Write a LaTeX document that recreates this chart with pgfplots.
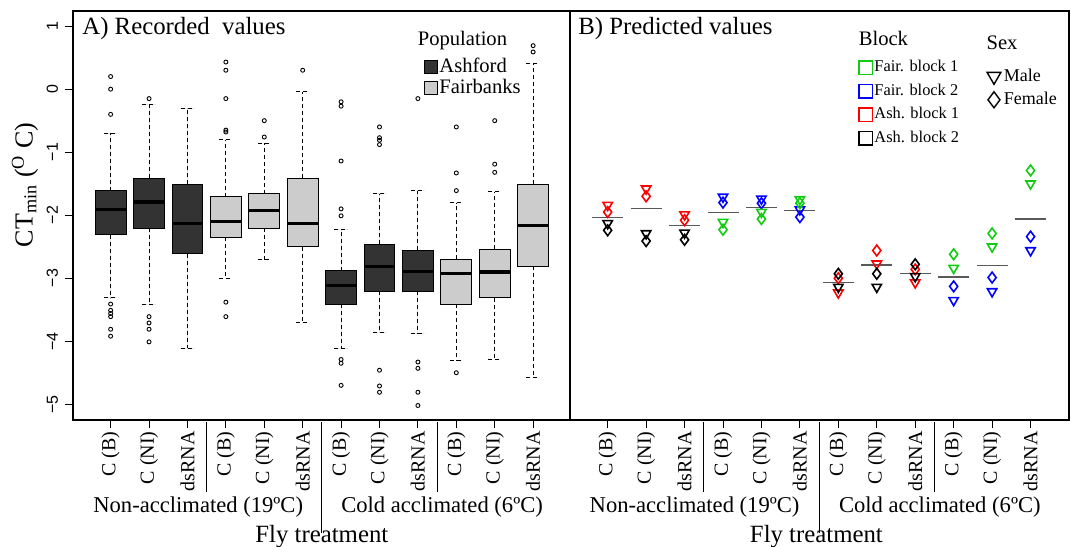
\documentclass[border=0pt]{standalone}
\usepackage{fontspec}
\setmainfont{Liberation Serif}
\setsansfont{Liberation Sans}
\usepackage{pgfplots}
\pgfplotsset{compat=1.18}
\usepgfplotslibrary{statistics}
\definecolor{dk}{HTML}{333333}
\definecolor{lt}{HTML}{CCCCCC}
\definecolor{gr}{HTML}{11CC11}
\definecolor{bl}{HTML}{0000FF}
\definecolor{rd}{HTML}{FF0000}
\newcommand\bp[7]{\addplot[boxplot prepared={draw position=#1, median=#4, upper quartile=#3, lower quartile=#5, upper whisker=#2, lower whisker=#6, box extend=0.8, whisker extend=0.35}, fill=#7, draw=black, mark=o, mark size=1pt, mark options={solid, draw=black, line width=0.45pt}, line width=0.5pt, forget plot]}
\begin{document}
\begin{tikzpicture}
\useasboundingbox (-36.5pt,-63.5pt) rectangle (500pt,210pt);
\pgfplotsset{
 common/.style={scale only axis, height=204.5pt, ymin=-5.25, ymax=1.24, xmin=0.02, clip=false,
  xtick={1,...,12}, xticklabels={C (B),C (NI),dsRNA,C (B),C (NI),dsRNA,C (B),C (NI),dsRNA,C (B),C (NI),dsRNA},
  xticklabel style={rotate=90, anchor=east, font=\fontsize{10}{10}\selectfont, inner sep=1.5pt},
  tick align=outside, major tick length=4pt, tick style={black, line width=0.5pt},
  xtick pos=bottom, ytick pos=left,
  axis line style={line width=0.6pt},
  boxplot/draw direction=y,
  boxplot/every whisker/.style={dash pattern=on 2pt off 1.5pt},
  boxplot/every median/.style={line width=1.6pt},
 }}
\begin{axis}[common, name=A, width=248.5pt, xmax=12.96,
  ytick={-5,...,1}, yticklabels={−5,−4,−3,−2,−1,0,1}, yticklabel style={rotate=90, anchor=south, font=\sffamily\fontsize{8}{8}\selectfont},
  legend style={at={(rel axis cs:0.705,0.895)}, anchor=north west, draw=none, fill=none, inner sep=0pt,
   font=\fontsize{10.3}{10.3}\selectfont, row sep=-2.3pt, nodes={inner xsep=1pt}},
  legend cell align=left]
\addlegendimage{legend image code/.code={\draw[fill=dk, draw=black] (0pt,-3.3pt) rectangle (6.4pt,3.3pt);}}
\addlegendentry{Ashford}
\addlegendimage{legend image code/.code={\draw[fill=lt, draw=black] (0pt,-3.3pt) rectangle (6.4pt,3.3pt);}}
\addlegendentry{Fairbanks}
\bp{1}{-0.70}{-1.61}{-1.91}{-2.31}{-3.31}{dk} coordinates {(0,0.20)(0,0.0)(0,-0.40)(0,-3.41)(0,-3.51)(0,-3.56)(0,-3.61)(0,-3.81)(0,-3.92)};
\bp{2}{-0.24}{-1.41}{-1.79}{-2.21}{-3.41}{dk} coordinates {(0,-0.15)(0,-3.61)(0,-3.71)(0,-3.81)(0,-4.01)};
\bp{3}{-0.30}{-1.51}{-2.13}{-2.61}{-4.11}{dk} coordinates {};
\bp{4}{-0.80}{-1.71}{-2.10}{-2.35}{-3.00}{lt} coordinates {(0,0.43)(0,0.30)(0,-0.15)(0,-0.65)(0,-0.68)(0,-3.38)(0,-3.61)};
\bp{5}{-0.86}{-1.66}{-1.92}{-2.21}{-2.71}{lt} coordinates {(0,-0.50)(0,-0.76)};
\bp{6}{-0.04}{-1.41}{-2.13}{-2.50}{-3.71}{lt} coordinates {(0,0.30)};
\bp{7}{-2.23}{-2.88}{-3.11}{-3.41}{-4.11}{dk} coordinates {(0,-0.20)(0,-0.27)(0,-1.14)(0,-1.90)(0,-2.01)(0,-4.29)(0,-4.35)(0,-4.70)};
\bp{8}{-1.66}{-2.46}{-2.81}{-3.21}{-3.86}{dk} coordinates {(0,-0.60)(0,-0.77)(0,-0.81)(0,-0.88)(0,-4.46)(0,-4.71)(0,-4.81)};
\bp{9}{-1.61}{-2.56}{-2.89}{-3.21}{-3.88}{dk} coordinates {(0,-0.15)(0,-4.33)(0,-4.43)(0,-4.81)(0,-5.02)};
\bp{10}{-1.80}{-2.70}{-2.92}{-3.41}{-4.31}{lt} coordinates {(0,-0.60)(0,-1.33)(0,-1.61)(0,-4.50)};
\bp{11}{-1.63}{-2.54}{-2.90}{-3.31}{-4.29}{lt} coordinates {(0,-0.50)(0,-1.19)(0,-1.32)};
\bp{12}{0.40}{-1.51}{-2.16}{-2.81}{-4.58}{lt} coordinates {(0,0.69)(0,0.59)};
\node[anchor=north west, font=\fontsize{12.4}{12.4}\selectfont, inner sep=0pt] at ([xshift=4.5pt,yshift=-3pt]rel axis cs:0,1) {A) Recorded\ \ values};
\node[anchor=north west, font=\fontsize{10.3}{10.3}\selectfont, inner sep=0pt] at ([xshift=-1pt]rel axis cs:0.697,0.952) {Population};
\node[rotate=90, font=\fontsize{13}{13}\selectfont] at ([xshift=-24pt]rel axis cs:0,0.575) {CT$_{\mathrm{min}}$ ($^{\mathrm{O}}$ C)};
\draw[line width=0.6pt] ([yshift=-1pt]axis cs:3.5,-5.25) -- ([yshift=-36pt]axis cs:3.5,-5.25);
\draw[line width=0.6pt] ([yshift=-1pt]axis cs:9.5,-5.25) -- ([yshift=-36pt]axis cs:9.5,-5.25);
\draw[line width=0.6pt] ([yshift=-1pt]axis cs:6.5,-5.25) -- ([yshift=-56.5pt]axis cs:6.5,-5.25);
\node[font=\fontsize{11.3}{11.3}\selectfont] at ([yshift=-43.5pt]axis cs:3.28,-5.25) {Non-acclimated (19ºC)};
\node[font=\fontsize{11.3}{11.3}\selectfont] at ([yshift=-43.5pt]axis cs:9.63,-5.25) {Cold acclimated (6ºC)};
\node[font=\fontsize{12.4}{12.4}\selectfont] at ([yshift=-58.5pt]axis cs:6.5,-5.25) {Fly treatment};
\end{axis}
\begin{axis}[common, name=B, at={(248.5pt,0)}, width=249.5pt, xmax=13.0, ytick=\empty,
  legend style={at={(rel axis cs:0.578,0.89)}, anchor=north west, draw=none, fill=none, inner sep=0pt,
   font=\fontsize{8.2}{8.2}\selectfont, row sep=0.6pt, nodes={inner xsep=1pt}},
  legend cell align=left]
\addlegendimage{only marks, mark=square, mark size=3.4pt, gr, line width=0.8pt}\addlegendentry{Fair. block 1}
\addlegendimage{only marks, mark=square, mark size=3.4pt, bl, line width=0.8pt}\addlegendentry{Fair. block 2}
\addlegendimage{only marks, mark=square, mark size=3.4pt, rd, line width=0.8pt}\addlegendentry{Ash. block 1}
\addlegendimage{only marks, mark=square, mark size=3.4pt, black, line width=0.8pt}\addlegendentry{Ash. block 2}
\pgfplotsset{tri/.style={only marks, mark=triangle, mark size=2.7pt, mark options={rotate=180}, line width=0.8pt},
 dia/.style={only marks, mark=diamond, mark size=2.7pt, line width=0.8pt}}
\addplot[only marks, mark=-, mark size=7.75pt, gray!70!black, line width=0.6pt] coordinates {(1,-2.04)(2,-1.89)(3,-2.16)(4,-1.96)(5,-1.88)(6,-1.92)(7,-3.07)(8,-2.79)(9,-2.93)(10,-2.98)(11,-2.80)(12,-2.06)};
\addplot[tri, rd] coordinates {(1,-1.84)(2,-1.58)(3,-1.99)(7,-3.23)(8,-2.77)(9,-3.07)};
\addplot[dia, rd] coordinates {(1,-1.95)(2,-1.70)(3,-2.08)(7,-3.00)(8,-2.56)(9,-2.86)};
\addplot[tri, black] coordinates {(1,-2.13)(2,-2.29)(3,-2.28)(7,-3.14)(8,-3.14)(9,-2.97)};
\addplot[dia, black] coordinates {(1,-2.24)(2,-2.41)(3,-2.39)(7,-2.93)(8,-2.93)(9,-2.78)};
\addplot[tri, bl] coordinates {(4,-1.71)(5,-1.74)(6,-1.91)(10,-3.35)(11,-3.21)(12,-2.56)};
\addplot[dia, bl] coordinates {(4,-1.80)(5,-1.81)(6,-2.03)(10,-3.13)(11,-2.99)(12,-2.34)};
\addplot[tri, gr] coordinates {(4,-2.11)(5,-1.95)(6,-1.75)(10,-2.84)(11,-2.50)(12,-1.50)};
\addplot[dia, gr] coordinates {(4,-2.23)(5,-2.06)(6,-1.81)(10,-2.62)(11,-2.29)(12,-1.29)};
\node[anchor=north west, font=\fontsize{12.4}{12.4}\selectfont, inner sep=0pt] at ([xshift=4pt,yshift=-3pt]rel axis cs:0,1) {B) Predicted values};
\node[anchor=north west, font=\fontsize{10.3}{10.3}\selectfont, inner sep=0pt] at (rel axis cs:0.578,0.952) {Block};
\node[anchor=north west, font=\fontsize{10.3}{10.3}\selectfont, inner sep=0pt] at (rel axis cs:0.834,0.94) {Sex};
\draw[line width=0.6pt] ([yshift=-1pt]axis cs:3.5,-5.25) -- ([yshift=-36pt]axis cs:3.5,-5.25);
\draw[line width=0.6pt] ([yshift=-1pt]axis cs:9.5,-5.25) -- ([yshift=-36pt]axis cs:9.5,-5.25);
\draw[line width=0.6pt] ([yshift=-1pt]axis cs:6.5,-5.25) -- ([yshift=-56.5pt]axis cs:6.5,-5.25);
\node[font=\fontsize{11.3}{11.3}\selectfont] at ([yshift=-43.5pt]axis cs:3.26,-5.25) {Non-acclimated (19ºC)};
\node[font=\fontsize{11.3}{11.3}\selectfont] at ([yshift=-43.5pt]axis cs:9.64,-5.25) {Cold acclimated (6ºC)};
\node[font=\fontsize{12.4}{12.4}\selectfont] at ([yshift=-58.5pt]axis cs:6.43,-5.25) {Fly treatment};
\end{axis}
\begin{axis}[scale only axis, at={(248.5pt,0)}, width=249.5pt, height=204.5pt, hide axis, xmin=0, xmax=1, ymin=0, ymax=1,
  legend style={at={(rel axis cs:0.835,0.87)}, anchor=north west, draw=none, fill=none, inner sep=0pt,
   font=\fontsize{9}{9}\selectfont, row sep=0pt, nodes={inner xsep=1.5pt}},
  legend cell align=left]
\addlegendimage{only marks, mark=triangle, mark size=4pt, mark options={rotate=180}, black, line width=0.7pt}\addlegendentry{Male}
\addlegendimage{only marks, mark=diamond, mark size=4pt, black, line width=0.7pt}\addlegendentry{Female}
\end{axis}
\end{tikzpicture}
\end{document}
